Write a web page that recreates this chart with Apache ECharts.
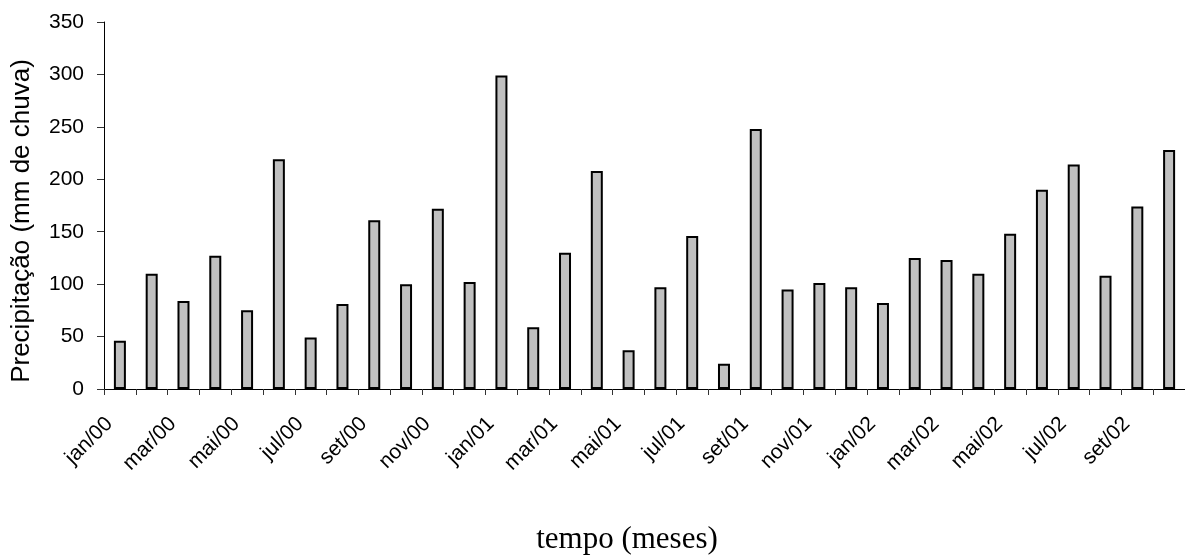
<!DOCTYPE html>
<html>
<head>
<meta charset="utf-8">
<script src="https://cdn.jsdelivr.net/npm/echarts@6/dist/echarts.min.js"></script>
<style>
  html, body { margin: 0; padding: 0; background: #fff; }
  #chart { width: 1185px; height: 558px; }
</style>
</head>
<body>
<div id="chart"></div>
<script>
// Monthly rainfall, jan/2000 – out/2002
const months = [
  'jan/00','fev/00','mar/00','abr/00','mai/00','jun/00','jul/00','ago/00','set/00','out/00','nov/00','dez/00',
  'jan/01','fev/01','mar/01','abr/01','mai/01','jun/01','jul/01','ago/01','set/01','out/01','nov/01','dez/01',
  'jan/02','fev/02','mar/02','abr/02','mai/02','jun/02','jul/02','ago/02','set/02','out/02'
];
const rainfall = [
  46, 110, 84, 127, 75, 219, 49, 81, 161, 100, 172, 102,
  299, 59, 130, 208, 37, 97, 146, 24, 248, 95, 101, 97,
  82, 125, 123, 110, 148, 190, 214, 108, 174, 228
];
const yTitle = 'Precipitação (mm de chuva)';
const xTitle = 'tempo (meses)';

const chart = echarts.init(document.getElementById('chart'), null, { renderer: 'canvas' });
chart.setOption({
  animation: false,
  backgroundColor: '#ffffff',
  grid: { left: 104, right: 0, top: 22, bottom: 169, containLabel: false },
  xAxis: {
    type: 'category',
    data: months,
    boundaryGap: true,
    axisLine: { lineStyle: { color: '#000', width: 1 } },
    axisTick: { show: true, interval: 0, length: 6, lineStyle: { color: '#333' } },
    axisLabel: {
      interval: 1,
      rotate: 45,
      margin: 21,
      padding: [0, 15, 0, 0],
      color: '#000',
      fontFamily: 'Liberation Sans, Arial, sans-serif',
      fontSize: 21
    },
    splitLine: { show: false }
  },
  yAxis: {
    type: 'value',
    min: 0,
    max: 350,
    interval: 50,
    axisLine: { show: true, lineStyle: { color: '#000', width: 1 } },
    axisTick: { show: true, length: 7, lineStyle: { color: '#333' } },
    axisLabel: {
      margin: 20,
      color: '#000',
      fontFamily: 'Liberation Sans, Arial, sans-serif',
      fontSize: 21
    },
    splitLine: { show: false }
  },
  graphic: [
    {
      type: 'text',
      x: 22, y: 221,
      rotation: Math.PI / 2,
      style: {
        text: yTitle,
        fill: '#000',
        font: '26px "Liberation Sans", Arial, sans-serif',
        textAlign: 'center',
        textVerticalAlign: 'middle'
      }
    },
    {
      type: 'text',
      x: 627, y: 540,
      style: {
        text: xTitle,
        fill: '#000',
        font: '31px "Liberation Serif", "Times New Roman", serif',
        textAlign: 'center',
        textVerticalAlign: 'middle'
      }
    }
  ],
  series: [{
    type: 'bar',
    data: rainfall,
    barWidth: 12,
    itemStyle: { color: '#c0c0c0', borderColor: '#000', borderWidth: 2 }
  }]
});
</script>
</body>
</html>
